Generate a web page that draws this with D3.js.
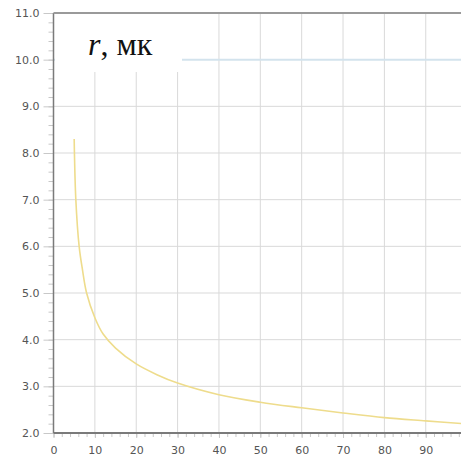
<!DOCTYPE html>
<html>
<head>
<meta charset="utf-8">
<script src="https://cdn.jsdelivr.net/npm/d3@7"></script>
<style>
  body { margin: 0; background: #fff; }
  svg { display: block; }
  .tick text { font-family: "DejaVu Sans", sans-serif; font-size: 11px; fill: #555; }
</style>
</head>
<body>
<script>
  // values
  var xValues = [5, 5.4, 6.2, 7, 8, 10, 12, 15, 20, 25, 30, 40, 50, 60, 70, 80, 90, 99];
  var rValues = [8.3, 7.0, 6.0, 5.5, 5.0, 4.47, 4.12, 3.82, 3.48, 3.25, 3.07, 2.82, 2.66, 2.54, 2.43, 2.33, 2.26, 2.20];
  var xTicks = [0, 10, 20, 30, 40, 50, 60, 70, 80, 90];
  var yTicks = [2, 3, 4, 5, 6, 7, 8, 9, 10, 11];
  var refLevel = 10;

  var width = 461, height = 462;
  var plotLeft = 53.5, plotTop = 13, plotBottom = 433;

  var svg = d3.select('body').append('svg').attr('width', width).attr('height', height);

  var x = d3.scaleLinear().domain([0, 100]).range([plotLeft, plotLeft + 413.6]);
  var y = d3.scaleLinear().domain([2, 11]).range([plotBottom, plotTop]);

  // grid
  svg.append('g').selectAll('line')
     .data(xTicks.slice(1))
     .enter().append('line')
     .attr('x1', function (d) { return x(d); }).attr('x2', function (d) { return x(d); })
     .attr('y1', plotTop).attr('y2', plotBottom)
     .attr('stroke', '#d9d9d9').attr('stroke-width', 1);

  svg.append('g').selectAll('line')
     .data(yTicks.filter(function (d) { return d !== 11 && d !== 2 && d !== refLevel; }))
     .enter().append('line')
     .attr('x1', plotLeft).attr('x2', width)
     .attr('y1', function (d) { return y(d); }).attr('y2', function (d) { return y(d); })
     .attr('stroke', '#d9d9d9').attr('stroke-width', 1);

  // light blue level line
  svg.append('line')
     .attr('x1', plotLeft).attr('x2', width)
     .attr('y1', y(refLevel)).attr('y2', y(refLevel))
     .attr('stroke', '#d3e3ed').attr('stroke-width', 2);

  // curve
  var line = d3.line()
     .x(function (d, i) { return x(xValues[i]); })
     .y(function (d) { return y(d); })
     .curve(d3.curveCatmullRom.alpha(0.5));

  svg.append('path')
     .datum(rValues)
     .attr('d', line)
     .attr('fill', 'none')
     .attr('stroke', '#eedc8c')
     .attr('stroke-width', 1.6);

  // label box
  svg.append('rect')
     .attr('x', plotLeft + 1.5).attr('y', plotTop + 1)
     .attr('width', 127).attr('height', 58)
     .attr('fill', '#fff');

  var label = svg.append('text')
     .attr('x', 88).attr('y', 55)
     .attr('font-family', '"Liberation Serif", "DejaVu Serif", serif')
     .attr('font-size', 32)
     .attr('fill', '#111');
  label.append('tspan').attr('font-style', 'italic').text('r');
  label.append('tspan').text(', мк');

  // axes
  var yAxis = d3.axisLeft(y).tickValues(yTicks).tickSize(10).tickPadding(4)
     .tickFormat(d3.format('.1f'));
  var gy = svg.append('g').attr('transform', 'translate(' + plotLeft + ',0)').call(yAxis);
  gy.select('.domain').remove();
  gy.selectAll('.tick line').attr('stroke', '#c8c8c8');

  var yMinor = d3.axisLeft(y).tickValues(d3.range(2, 11.01, 0.2)).tickSize(5).tickFormat('');
  var gym = svg.append('g').attr('transform', 'translate(' + plotLeft + ',0)').call(yMinor);
  gym.select('.domain').remove();
  gym.selectAll('.tick line').attr('stroke', '#c8c8c8');

  var xAxis = d3.axisBottom(x).tickValues(xTicks).tickSize(5).tickPadding(8);
  var gx = svg.append('g').attr('transform', 'translate(0,' + plotBottom + ')').call(xAxis);
  gx.select('.domain').remove();
  gx.selectAll('.tick line').attr('stroke', '#c8c8c8');

  var xMinor = d3.axisBottom(x).tickValues(d3.range(0, 100, 2)).tickSize(4).tickFormat('');
  var gxm = svg.append('g').attr('transform', 'translate(0,' + plotBottom + ')').call(xMinor);
  gxm.select('.domain').remove();
  gxm.selectAll('.tick line').attr('stroke', '#c8c8c8');

  // frame lines
  svg.append('line').attr('x1', plotLeft).attr('x2', plotLeft).attr('y1', plotTop).attr('y2', plotBottom)
     .attr('stroke', '#7a7a7a').attr('stroke-width', 1.5);
  svg.append('line').attr('x1', plotLeft).attr('x2', width).attr('y1', plotBottom).attr('y2', plotBottom)
     .attr('stroke', '#7a7a7a').attr('stroke-width', 2);
  svg.append('line').attr('x1', plotLeft).attr('x2', width).attr('y1', plotTop).attr('y2', plotTop)
     .attr('stroke', '#9a9a9a').attr('stroke-width', 2);
</script>
</body>
</html>
